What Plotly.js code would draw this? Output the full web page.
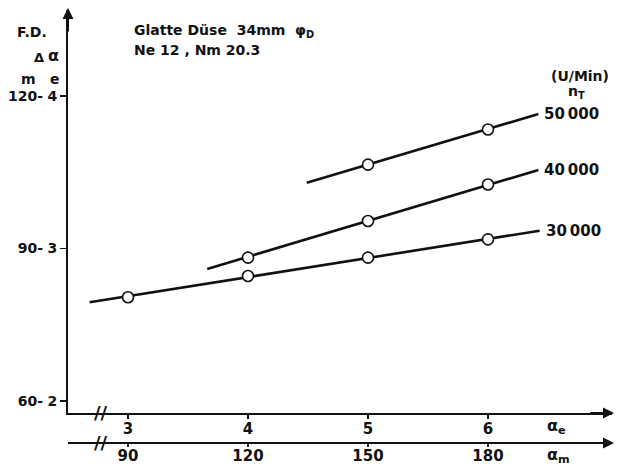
<!DOCTYPE html>
<html>
<head>
<meta charset="utf-8">
<script src="https://cdn.plot.ly/plotly-3.0.1.min.js"></script>
<style>html,body{margin:0;padding:0;background:#fff;}#chart{width:619px;height:466px;}</style>
</head>
<body>
<div id="chart"></div>
<script>
// ---- data ----
const alphaE_ticks = [3, 4, 5, 6];
const alphaM_ticks = [90, 120, 150, 180];
const dAlphaE_ticks = [2, 3, 4];
const dAlphaM_ticks = [60, 90, 120];

const n30_x = [3, 4, 5, 6];
const n30_y = [2.68, 2.82, 2.94, 3.06];
const n30_fit_x = [2.68, 6.43];
const n30_fit_y = [2.647, 3.117];

const n40_x = [4, 5, 6];
const n40_y = [2.94, 3.18, 3.42];
const n40_fit_x = [3.66, 6.42];
const n40_fit_y = [2.866, 3.515];

const n50_x = [5, 6];
const n50_y = [3.55, 3.78];
const n50_fit_x = [4.49, 6.42];
const n50_fit_y = [3.431, 3.882];

const seriesLabels = ['30\u2009000', '40\u2009000', '50\u2009000'];

// ---- layout helpers ----
const ML = 43, MR = 7, MT = 10, MB = 23, W = 619, H = 466;
const PW = W - ML - MR, PH = H - MT - MB;
const px = x => (x - ML) / PW;
const py = y => (H - MB - y) / PH;
const FONT = 'DejaVu Sans, Liberation Sans, Arial, sans-serif';
const f = (s) => ({family: FONT, size: s, color: '#111', weight: 'bold'});

const lineStyle = {color: '#111', width: 2.6};
const markerStyle = {symbol: 'circle', size: 11, color: '#fff', line: {color: '#111', width: 1.6}};

const fits = [[n30_fit_x, n30_fit_y], [n40_fit_x, n40_fit_y], [n50_fit_x, n50_fit_y]];
const pts = [[n30_x, n30_y], [n40_x, n40_y], [n50_x, n50_y]];

const traces = [];
fits.forEach(([x, y]) => traces.push({x, y, mode: 'lines', line: lineStyle, hoverinfo: 'skip', showlegend: false}));
pts.forEach(([x, y]) => traces.push({x, y, mode: 'markers', marker: markerStyle, showlegend: false}));
// invisible trace to activate the secondary scales
traces.push({x: alphaM_ticks.slice(0, 3), y: dAlphaM_ticks, xaxis: 'x2', yaxis: 'y2',
  mode: 'markers', marker: {opacity: 0}, hoverinfo: 'skip', showlegend: false});

const annotations = [];
fits.forEach(([x, y], i) => annotations.push({
  x: x[x.length - 1], y: y[y.length - 1], xref: 'x', yref: 'y', text: seriesLabels[i],
  showarrow: false, xanchor: 'left', yanchor: 'middle', xshift: 4, font: f(15)
}));

const txt = (text, x, y, size, anchor) => annotations.push({
  x: px(x), y: py(y), xref: 'paper', yref: 'paper', text, showarrow: false,
  xanchor: anchor || 'center', yanchor: 'middle', font: f(size)
});
txt('F.D.', 32, 32, 14);
txt('\u0394', 39, 57, 13);
txt('\u03b1', 53, 56, 16);
txt('m', 28, 79, 14);
txt('e', 55, 79, 14);
txt('Glatte Düse  34mm  \u03c6<sub>D</sub>', 132, 31, 14, 'left');
txt('Ne 12 , Nm 20.3', 132, 50, 14, 'left');
txt('(U/Min)', 580, 76, 14);
txt('n<sub>T</sub>', 576, 92, 14);
txt('\u03b1<sub>e</sub>', 556, 426, 16);
txt('\u03b1<sub>m</sub>', 558, 456, 16);
txt('//', 101, 412, 18);
txt('//', 101, 442, 18);

const arrow = (x, y, ax, ay) => annotations.push({
  x: px(x), y: py(y), xref: 'paper', yref: 'paper', text: '', showarrow: true,
  ax, ay, arrowhead: 2, arrowsize: 1.1, arrowwidth: 2, arrowcolor: '#111'
});
arrow(68, 8, 0, 25);
arrow(614, 413, -25, 0);
arrow(614, 443, -25, 0);

const yd = 30 / PH;
const xd = (68 - ML) / PW;
const xr = [2.5, 2.5 + (W - MR - 68) / 120];
const yr = [2 - 12 / 152.5, 2 + 391 / 152.5];

const layout = {
  width: W, height: H,
  margin: {l: ML, r: MR, t: MT, b: MB},
  paper_bgcolor: '#fff', plot_bgcolor: 'rgba(0,0,0,0)',
  showlegend: false,
  font: f(14),
  xaxis: {domain: [xd, 1], range: xr, anchor: 'y', showgrid: false, zeroline: false,
    showline: true, linewidth: 2, linecolor: '#111', ticks: 'outside', ticklen: 4, tickwidth: 1.5,
    tickcolor: '#111', tickvals: alphaE_ticks, ticktext: alphaE_ticks.map(String), tickfont: f(15),
    ticklabelstandoff: -3},
  xaxis2: {overlaying: 'x', anchor: 'free', position: 0, side: 'bottom',
    range: [xr[0] * 30, xr[1] * 30], showgrid: false, zeroline: false,
    showline: true, linewidth: 2, linecolor: '#111', ticks: 'outside', ticklen: 3, tickwidth: 1.5,
    tickcolor: '#111', tickvals: alphaM_ticks, ticktext: alphaM_ticks.map(String), tickfont: f(15),
    ticklabelstandoff: -4},
  yaxis: {domain: [yd, 1], range: yr, anchor: 'x', showgrid: false, zeroline: false,
    showline: true, linewidth: 2, linecolor: '#111', ticks: 'outside', ticklen: 6, tickwidth: 1.5,
    tickcolor: '#111', tickvals: dAlphaE_ticks, ticktext: dAlphaE_ticks.map(String), tickfont: f(14)},
  yaxis2: {overlaying: 'y', anchor: 'free', position: 0, side: 'left',
    range: [yr[0] * 30, yr[1] * 30], showgrid: false, zeroline: false, showline: false,
    ticks: '', tickvals: dAlphaM_ticks, ticktext: dAlphaM_ticks.map(v => v + '-'), tickfont: f(14)},
  annotations
};

Plotly.newPlot('chart', traces, layout, {displayModeBar: false, staticPlot: true});
</script>
</body>
</html>
